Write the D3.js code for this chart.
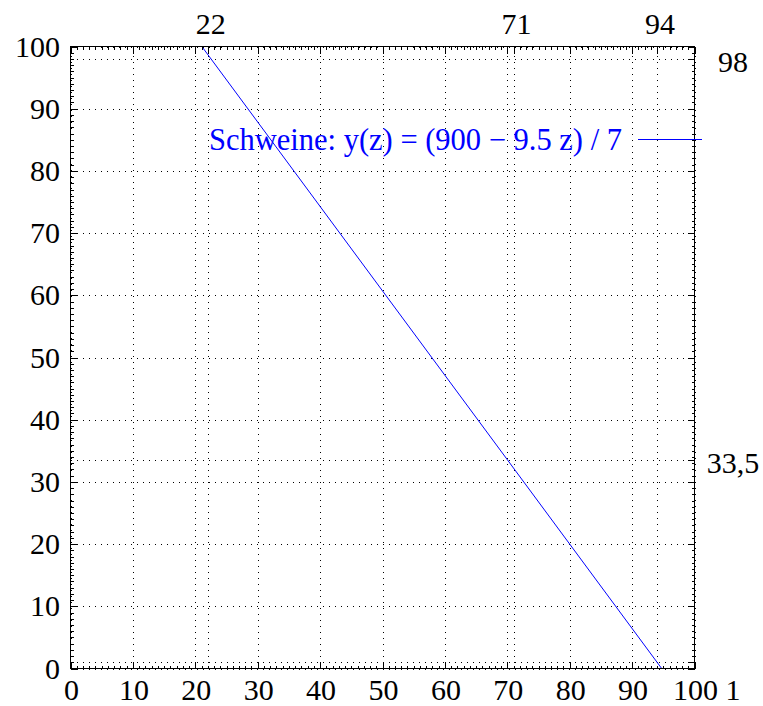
<!DOCTYPE html>
<html>
<head>
<meta charset="utf-8">
<script src="https://cdn.jsdelivr.net/npm/d3@7"></script>
<style>
  body { margin: 0; background: #fff; }
  svg text { font-family: "Liberation Serif", "Times New Roman", serif; }
</style>
</head>
<body>
<svg id="chart"></svg>
<script>
// Daten
var xTicks = [0, 10, 20, 30, 40, 50, 60, 70, 80, 90, 100];
var yTicks = [0, 10, 20, 30, 40, 50, 60, 70, 80, 90, 100];
var x2Ticks = [22, 71, 94];
var x2Labels = ["22", "71", "94"];
var y2Ticks = [98, 33.5, 1];
var y2Labels = ["98", "33,5", "1"];
// Schweine-Gerade, Endpunkte
var lineZ = [21.05, 94.74];
var lineY = [100, 0];
var legendText = "Schweine: y(z) = (900 \u2212 9.5 z) / 7";

var width = 763, height = 706;
var svg = d3.select("#chart").attr("width", width).attr("height", height);

var x = d3.scaleLinear().domain([0, 100]).range([70.5, 694.5]);
var y = d3.scaleLinear().domain([0, 100]).range([668.5, 46.5]);

var fs = 30;

// Gitter (gepunktet)
var grid = svg.append("g").attr("stroke", "#000").attr("stroke-width", 1)
  .attr("stroke-dasharray", "1,5").attr("shape-rendering", "crispEdges");
grid.selectAll(".gx").data(xTicks.concat(x2Ticks)).enter().append("line")
  .attr("x1", d => Math.round(x(d)) + 0.5).attr("x2", d => Math.round(x(d)) + 0.5)
  .attr("y1", y(0)).attr("y2", y(100));
grid.selectAll(".gy").data(yTicks.concat(y2Ticks)).enter().append("line")
  .attr("y1", d => Math.round(y(d)) + 0.5).attr("y2", d => Math.round(y(d)) + 0.5)
  .attr("x1", x(0)).attr("x2", x(100));

// Kurve
var line = d3.line().x(d => x(d[0])).y(d => y(d[1]));
svg.append("path")
  .datum(lineZ.map((z, i) => [z, lineY[i]]))
  .attr("d", line)
  .attr("fill", "none")
  .attr("stroke", "#0000ff")
  .attr("stroke-width", 1);

// Achsen mit Tics nach innen
var minor = d3.range(0, 101, 1);
var ax = svg.append("g").attr("shape-rendering", "crispEdges");

// kleine Tics
ax.append("g").attr("transform", `translate(0,${y(0)})`)
  .call(d3.axisBottom(x).tickValues(minor).tickSizeInner(-3).tickSizeOuter(0).tickFormat(""));
ax.append("g").attr("transform", `translate(0,${y(100)})`)
  .call(d3.axisTop(x).tickValues(minor).tickSizeInner(-3).tickSizeOuter(0).tickFormat(""));
ax.append("g").attr("transform", `translate(${x(0)},0)`)
  .call(d3.axisLeft(y).tickValues(minor).tickSizeInner(-3).tickSizeOuter(0).tickFormat(""));
ax.append("g").attr("transform", `translate(${x(100)},0)`)
  .call(d3.axisRight(y).tickValues(minor).tickSizeInner(-3).tickSizeOuter(0).tickFormat(""));

// grosse Tics
ax.append("g").attr("transform", `translate(0,${y(0)})`)
  .call(d3.axisBottom(x).tickValues(xTicks).tickSizeInner(-7).tickSizeOuter(0).tickFormat(""));
ax.append("g").attr("transform", `translate(0,${y(100)})`)
  .call(d3.axisTop(x).tickValues(xTicks.concat(x2Ticks)).tickSizeInner(-7).tickSizeOuter(0).tickFormat(""));
ax.append("g").attr("transform", `translate(${x(0)},0)`)
  .call(d3.axisLeft(y).tickValues(yTicks).tickSizeInner(-7).tickSizeOuter(0).tickFormat(""));
ax.append("g").attr("transform", `translate(${x(100)},0)`)
  .call(d3.axisRight(y).tickValues(yTicks.concat(y2Ticks)).tickSizeInner(-7).tickSizeOuter(0).tickFormat(""));
ax.selectAll(".domain").remove();
ax.selectAll("line").attr("stroke", "#000");

// Rahmen
svg.append("rect")
  .attr("x", x(0)).attr("y", y(100))
  .attr("width", x(100) - x(0)).attr("height", y(0) - y(100))
  .attr("fill", "none").attr("stroke", "#000").attr("stroke-width", 1.5)
  .attr("shape-rendering", "crispEdges");

// Beschriftungen
svg.selectAll(".xl").data(xTicks).enter().append("text")
  .attr("x", d => x(d) + 1).attr("y", 700)
  .attr("text-anchor", "middle").attr("font-size", fs)
  .text(d => d);
svg.selectAll(".yl").data(yTicks).enter().append("text")
  .attr("x", 60).attr("y", d => y(d) + 10)
  .attr("text-anchor", "end").attr("font-size", fs)
  .text(d => d);
svg.selectAll(".x2l").data(x2Ticks).enter().append("text")
  .attr("x", d => x(d) + 3).attr("y", 34)
  .attr("text-anchor", "middle").attr("font-size", fs)
  .text((d, i) => x2Labels[i]);
svg.selectAll(".y2l").data(y2Ticks).enter().append("text")
  .attr("x", 733).attr("y", (d, i) => y(d) + (i == 2 ? 38 : 13))
  .attr("text-anchor", "middle").attr("font-size", fs)
  .text((d, i) => y2Labels[i]);

// Legende
svg.append("text")
  .attr("x", 622).attr("y", 150)
  .attr("text-anchor", "end").attr("font-size", 30.5)
  .attr("fill", "#0000ff")
  .text(legendText);
svg.append("line")
  .attr("x1", 638).attr("x2", 702).attr("y1", 139.5).attr("y2", 139.5)
  .attr("stroke", "#0000ff").attr("stroke-width", 1);
</script>
</body>
</html>
